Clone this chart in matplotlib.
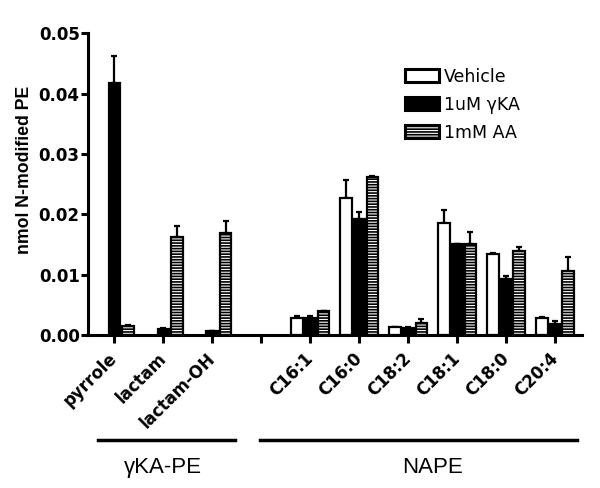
import numpy as np
import matplotlib
matplotlib.use("Agg")
import matplotlib.pyplot as plt
from matplotlib.ticker import FormatStrFormatter
from matplotlib.lines import Line2D

plt.rcParams["font.family"] = ["DejaVu Sans"]
plt.rcParams["hatch.linewidth"] = 1.2

nan = np.nan
categories = ["pyrrole", "lactam", "lactam-OH", "",
              "C16:1", "C16:0", "C18:2", "C18:1", "C18:0", "C20:4"]
series = ["Vehicle", "1uM \u03b3KA", "1mM AA"]
vehicle = [nan, nan, nan, nan, 0.0028, 0.0227, 0.0013, 0.0185, 0.0135, 0.0029]
vehicle_err = [nan, nan, nan, nan, 0.0003, 0.0030, 0.0001, 0.0022, 0.0001, 0.0001]
gka = [0.0417, 0.0010, 0.0006, nan, 0.0029, 0.0193, 0.0012, 0.0150, 0.0093, 0.0019]
gka_err = [0.0046, 0.0001, 0.0001, nan, 0.0002, 0.0011, 0.0001, 0.0, 0.0004, 0.0004]
aa = [0.0015, 0.0163, 0.0169, nan, 0.0039, 0.0262, 0.0020, 0.0151, 0.0139, 0.0106]
aa_err = [0.0001, 0.0018, 0.0020, nan, 0.0001, 0.0001, 0.0006, 0.0019, 0.0007, 0.0023]
groups = [("\u03b3KA-PE", 0, 2), ("NAPE", 4, 9)]

fig = plt.figure(figsize=(6.0, 4.88), dpi=100)
ax = fig.add_axes([0.1467, 0.3135, 0.8233, 0.6185])

x = np.arange(len(categories))
width = 0.24
offset = 0.27
styles = [
    dict(facecolor="white", hatch=None),
    dict(facecolor="black", hatch=None),
    dict(facecolor="white", hatch="------"),
]
values = [vehicle, gka, aa]
errors = [vehicle_err, gka_err, aa_err]
for i, (vals, errs, st) in enumerate(zip(values, errors, styles)):
    pos = x + (i - 1) * offset
    vals = np.array(vals)
    errs = np.array(errs)
    ax.bar(pos, vals, width, color=st["facecolor"], edgecolor="black",
           linewidth=1.6, hatch=st["hatch"], label=series[i], zorder=2)
    ok = ~np.isnan(vals)
    ax.errorbar(pos[ok], vals[ok], yerr=[np.zeros(ok.sum()), errs[ok]],
                fmt="none", ecolor="black", elinewidth=1.6, capsize=2.5,
                capthick=1.6, zorder=1)

ax.set_xlim(-0.54, 9.55)
ax.set_ylim(0, 0.05)
ax.set_yticks(np.arange(0, 0.051, 0.01))
ax.yaxis.set_major_formatter(FormatStrFormatter("%.2f"))
ax.set_xticks(x)
ax.set_xticklabels(categories, rotation=45, ha="right", va="center",
                   rotation_mode="anchor", fontsize=12, fontweight="bold")
for lab in ax.get_yticklabels():
    lab.set_fontweight("bold")
    lab.set_fontsize(12)
ax.tick_params(axis="x", length=6, width=2.2, direction="out", pad=9)
ax.tick_params(axis="y", length=5, width=2.2, direction="out", pad=1)
ax.spines["top"].set_visible(False)
ax.spines["right"].set_visible(False)
ax.spines["left"].set_linewidth(2.2)
ax.spines["bottom"].set_linewidth(2.2)
ax.text(-0.128, 0.547, "nmol N-modified PE", transform=ax.transAxes,
        rotation=90, ha="center", va="center", fontsize=12.7,
        fontweight="bold", family="Liberation Sans")

leg = ax.legend(loc="upper left", bbox_to_anchor=(0.642, 0.886), frameon=False,
                fontsize=12.5, handlelength=1.95, handleheight=0.75,
                labelspacing=0.58, handletextpad=0.3, borderpad=0,
                borderaxespad=0)
for patch in leg.get_patches():
    patch.set_linewidth(2.2)

trans = ax.get_xaxis_transform()
pads = [(0.33, 0.46), (1.03, 0.44)]
for (name, start, end), (pl, pr) in zip(groups, pads):
    ax.add_line(Line2D([start - pl, end + pr], [-0.348, -0.348], transform=trans,
                       color="black", linewidth=2.5, clip_on=False))
    ax.text((start + end) / 2, -0.44, name, transform=trans, ha="center",
            va="center", fontsize=16, family="Liberation Sans")

fig.savefig("out.png", dpi=100)
